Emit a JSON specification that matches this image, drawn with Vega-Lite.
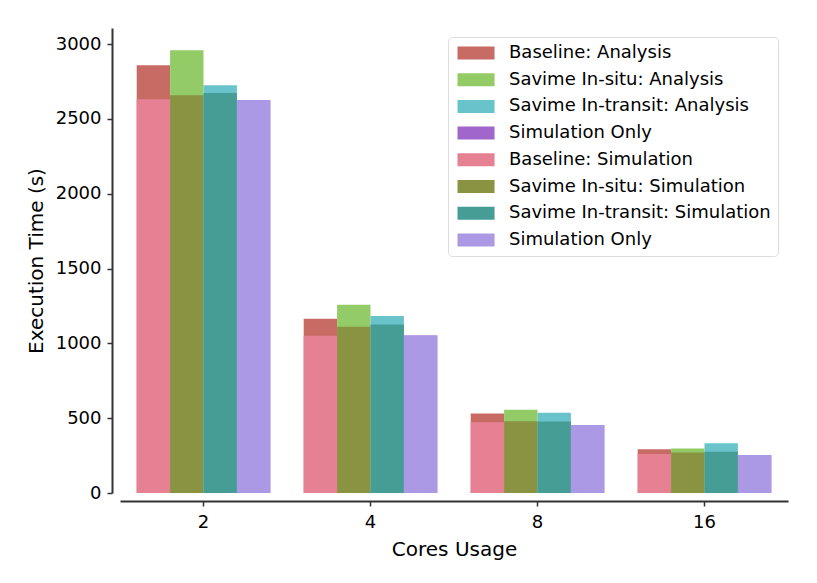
{
  "$schema": "https://vega.github.io/schema/vega-lite/v6.json",
  "width": 668,
  "height": 465,
  "autosize": {"type": "none"},
  "padding": {"left": 120, "top": 28, "right": 29, "bottom": 90},
  "background": "white",
  "config": {"font": "DejaVu Sans", "view": {"stroke": null}},
  "data": {
    "values": [
      {"cores": "2", "method": "Baseline", "part": "Analysis", "series": "Baseline: Analysis", "time": 2859},
      {"cores": "2", "method": "Baseline", "part": "Simulation", "series": "Baseline: Simulation", "time": 2632},
      {"cores": "2", "method": "In-situ", "part": "Analysis", "series": "Savime In-situ: Analysis", "time": 2960},
      {"cores": "2", "method": "In-situ", "part": "Simulation", "series": "Savime In-situ: Simulation", "time": 2658},
      {"cores": "2", "method": "In-transit", "part": "Analysis", "series": "Savime In-transit: Analysis", "time": 2725},
      {"cores": "2", "method": "In-transit", "part": "Simulation", "series": "Savime In-transit: Simulation", "time": 2674},
      {"cores": "2", "method": "Sim Only", "part": "Analysis", "series": "Simulation Only: Analysis", "time": 2625},
      {"cores": "2", "method": "Sim Only", "part": "Simulation", "series": "Simulation Only: Simulation", "time": 2625},
      {"cores": "4", "method": "Baseline", "part": "Analysis", "series": "Baseline: Analysis", "time": 1165},
      {"cores": "4", "method": "Baseline", "part": "Simulation", "series": "Baseline: Simulation", "time": 1051},
      {"cores": "4", "method": "In-situ", "part": "Analysis", "series": "Savime In-situ: Analysis", "time": 1259},
      {"cores": "4", "method": "In-situ", "part": "Simulation", "series": "Savime In-situ: Simulation", "time": 1112},
      {"cores": "4", "method": "In-transit", "part": "Analysis", "series": "Savime In-transit: Analysis", "time": 1183},
      {"cores": "4", "method": "In-transit", "part": "Simulation", "series": "Savime In-transit: Simulation", "time": 1127},
      {"cores": "4", "method": "Sim Only", "part": "Analysis", "series": "Simulation Only: Analysis", "time": 1053},
      {"cores": "4", "method": "Sim Only", "part": "Simulation", "series": "Simulation Only: Simulation", "time": 1053},
      {"cores": "8", "method": "Baseline", "part": "Analysis", "series": "Baseline: Analysis", "time": 531},
      {"cores": "8", "method": "Baseline", "part": "Simulation", "series": "Baseline: Simulation", "time": 473},
      {"cores": "8", "method": "In-situ", "part": "Analysis", "series": "Savime In-situ: Analysis", "time": 556},
      {"cores": "8", "method": "In-situ", "part": "Simulation", "series": "Savime In-situ: Simulation", "time": 480},
      {"cores": "8", "method": "In-transit", "part": "Analysis", "series": "Savime In-transit: Analysis", "time": 536},
      {"cores": "8", "method": "In-transit", "part": "Simulation", "series": "Savime In-transit: Simulation", "time": 478},
      {"cores": "8", "method": "Sim Only", "part": "Analysis", "series": "Simulation Only: Analysis", "time": 455},
      {"cores": "8", "method": "Sim Only", "part": "Simulation", "series": "Simulation Only: Simulation", "time": 455},
      {"cores": "16", "method": "Baseline", "part": "Analysis", "series": "Baseline: Analysis", "time": 293},
      {"cores": "16", "method": "Baseline", "part": "Simulation", "series": "Baseline: Simulation", "time": 261},
      {"cores": "16", "method": "In-situ", "part": "Analysis", "series": "Savime In-situ: Analysis", "time": 297},
      {"cores": "16", "method": "In-situ", "part": "Simulation", "series": "Savime In-situ: Simulation", "time": 270},
      {"cores": "16", "method": "In-transit", "part": "Analysis", "series": "Savime In-transit: Analysis", "time": 333},
      {"cores": "16", "method": "In-transit", "part": "Simulation", "series": "Savime In-transit: Simulation", "time": 275},
      {"cores": "16", "method": "Sim Only", "part": "Analysis", "series": "Simulation Only: Analysis", "time": 254},
      {"cores": "16", "method": "Sim Only", "part": "Simulation", "series": "Simulation Only: Simulation", "time": 254}
    ]
  },
  "encoding": {
    "x": {
      "field": "cores",
      "type": "ordinal",
      "sort": ["2", "4", "8", "16"],
      "scale": {"paddingInner": 0.2, "paddingOuter": 0.1},
      "axis": {
        "title": "Cores Usage",
        "labelAngle": 0,
        "offset": 8,
        "domainColor": "#333",
        "domainWidth": 2,
        "tickColor": "#333",
        "tickWidth": 1.5,
        "tickSize": 5,
        "labelFontSize": 18,
        "labelColor": "black",
        "labelPadding": 7,
        "titleFontSize": 20,
        "titleFontWeight": "normal",
        "titleColor": "black",
        "titlePadding": 8
      }
    },
    "xOffset": {
      "field": "method",
      "type": "nominal",
      "sort": ["Baseline", "In-situ", "In-transit", "Sim Only"],
      "scale": {"paddingInner": 0, "paddingOuter": 0}
    },
    "y": {
      "field": "time",
      "type": "quantitative",
      "stack": null,
      "scale": {"domain": [0, 3108], "nice": false, "zero": true},
      "axis": {
        "title": "Execution Time (s)",
        "values": [0, 500, 1000, 1500, 2000, 2500, 3000],
        "format": "d",
        "grid": false,
        "offset": 8,
        "domainColor": "#333",
        "domainWidth": 2,
        "tickColor": "#333",
        "tickWidth": 1.5,
        "tickSize": 5,
        "labelFontSize": 18,
        "labelColor": "black",
        "labelPadding": 6,
        "titleFontSize": 20,
        "titleFontWeight": "normal",
        "titleColor": "black",
        "titlePadding": 9
      }
    },
    "color": {
      "field": "series",
      "type": "nominal",
      "scale": {
        "domain": [
          "Baseline: Analysis",
          "Savime In-situ: Analysis",
          "Savime In-transit: Analysis",
          "Simulation Only: Analysis",
          "Baseline: Simulation",
          "Savime In-situ: Simulation",
          "Savime In-transit: Simulation",
          "Simulation Only: Simulation"
        ],
        "range": ["#c96b65", "#93cb67", "#68c4ca", "#a066cb", "#e68093", "#8a9342", "#469d96", "#ab99e6"]
      },
      "legend": {
        "title": null,
        "orient": "none",
        "legendX": 328,
        "legendY": 9,
        "labelExpr": "indexof(datum.label, 'Simulation Only') == 0 ? 'Simulation Only' : datum.label",
        "symbolType": "M-1,-1H4.7V1H-1Z",
        "symbolSize": 169,
        "symbolStrokeWidth": 0,
        "symbolOpacity": 1,
        "labelOffset": 36,
        "labelFontSize": 18,
        "labelColor": "black",
        "labelLimit": 400,
        "rowPadding": 8.7,
        "padding": 7,
        "fillColor": "white",
        "strokeColor": "#dddddd",
        "cornerRadius": 4
      }
    }
  },
  "layer": [
    {"transform": [{"filter": "datum.part == 'Analysis'"}], "mark": {"type": "bar", "opacity": 1}},
    {"transform": [{"filter": "datum.part == 'Simulation'"}], "mark": {"type": "bar", "opacity": 1}}
  ]
}
